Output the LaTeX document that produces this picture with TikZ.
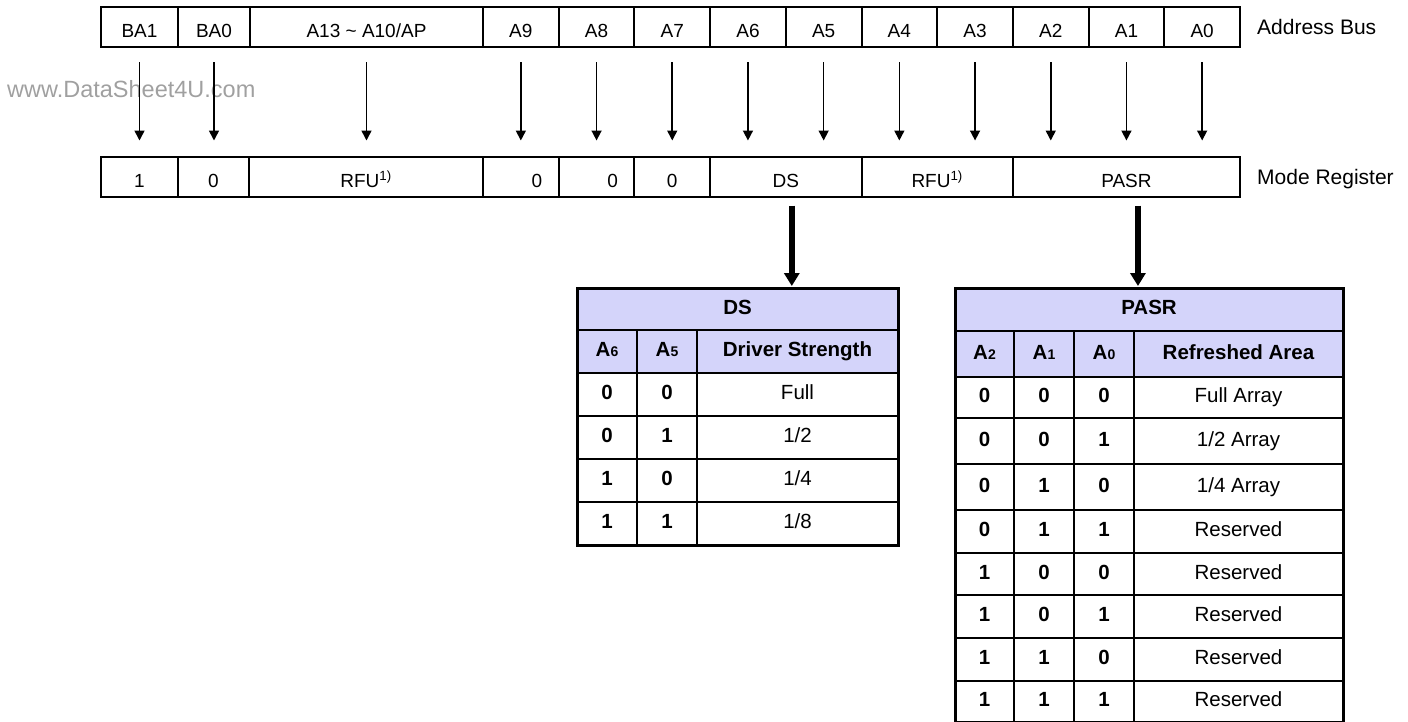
\documentclass[tikz,border=0pt]{standalone}
\usepackage{fontspec}
\setmainfont{Liberation Sans}
\usetikzlibrary{arrows.meta, positioning, calc}
\usepackage{xcolor}

\definecolor{headfill}{RGB}{212,212,250}
\definecolor{wmgray}{RGB}{160,160,160}

\newcommand{\subdig}[1]{{\fontsize{14}{16}\selectfont #1}}

\tikzset{
  buscell/.style={draw, line width=2pt, inner sep=0pt, outer sep=0pt,
    minimum height=40pt, text height=21pt, text depth=0pt,
    font=\fontsize{19}{22}\selectfont},
  busarrow/.style={-{Triangle[length=10pt,width=10pt]}, line width=1.6pt},
  bigarrow/.style={-{Triangle[length=13pt,width=15pt]}, line width=5.5pt},
  tabcell/.style={draw, line width=2.2pt, inner sep=0pt, outer sep=0pt,
    text height=14pt, text depth=4pt, font=\fontsize{20.5}{24}\selectfont},
  bitcell/.style={tabcell, font=\fontsize{20.5}{24}\selectfont\bfseries},
  tabhead/.style={tabcell, fill=headfill, font=\fontsize{20.5}{24}\selectfont\bfseries},
  tabframe/.style={draw, line width=3pt},
  sidelabel/.style={anchor=base west, inner sep=0pt, font=\fontsize{21}{25}\selectfont},
  watermark/.style={anchor=base west, inner sep=0pt, text=wmgray, font=\fontsize{23.5}{26}\selectfont}
}

\begin{document}
\begin{tikzpicture}[x=1pt, y=-1pt]
  \useasboundingbox (0,0) rectangle (1408,721);

  \node[watermark] (wm) at (7,97) {www.DataSheet4U.com};

  % address bus row
  \foreach \nm/\lbl/\xa/\xb in {ba1/BA1/101/178, ba0/BA0/178/250,
      a13/{A13 \textasciitilde\ A10/AP}/250/483, a9/A9/483/558.7,
      a8/A8/558.7/634.4, a7/A7/634.4/710.1, a6/A6/710.1/785.8,
      a5/A5/785.8/861.5, a4/A4/861.5/937.2, a3/A3/937.2/1012.9,
      a2/A2/1012.9/1088.6, a1/A1/1088.6/1164.3, a0/A0/1164.3/1240}
    \node[buscell, minimum width={\xb-\xa}] (bus-\nm) at ({(\xa+\xb)/2},27) {\lbl};

  % mode register row (\dx pushes the text to the right)
  \foreach \nm/\lbl/\xa/\xb/\dx in {ba1/1/101/178/0, ba0/0/178/249/0,
      rfuh/{RFU\textsuperscript{1)}}/249/483/0, a9/0/483/558.7/32,
      a8/0/558.7/634.4/32, a7/0/634.4/710.1/0, ds/DS/710.1/861.5/0,
      rfu/{RFU\textsuperscript{1)}}/861.5/1012.9/0, pasr/PASR/1012.9/1240/0}
    \node[buscell, minimum width={\xb-\xa}] (mr-\nm) at ({(\xa+\xb)/2},176.5) {\hspace*{\dx pt}\lbl};

  \node[sidelabel] (bus-label) at (1257,34) {Address Bus};
  \node[sidelabel] (mr-label) at (1257,184) {Mode Register};

  % bus bits to register fields
  \foreach \src/\dst in {ba1/ba1, ba0/ba0, a13/rfuh, a9/a9, a8/a8, a7/a7,
      a6/ds, a5/ds, a4/rfu, a3/rfu, a2/pasr, a1/pasr, a0/pasr}
    \draw[busarrow] ($(bus-\src.south)+(0,15)$) -- ($(bus-\src.south |- mr-\dst.north)+(0,-16)$);

  % DS table
  \node[tabhead, minimum width=321pt, minimum height=42pt] (ds-title) at (737.5,309) {DS};
  \foreach \nm/\lbl/\xa/\xb in {c1/{A\subdig{6}}/577/637, c2/{A\subdig{5}}/637/697,
      c3/Driver Strength/697/898}
    \node[tabhead, minimum width={\xb-\xa}, minimum height=43pt] (ds-h\nm) at ({(\xa+\xb)/2},351.5) {\lbl};
  \foreach \r/\bita/\bitb/\txt in {1/0/0/Full, 2/0/1/{1/2}, 3/1/0/{1/4}, 4/1/1/{1/8}}
  {
    \node[bitcell, minimum width=60pt, minimum height=43pt] (ds-r\r-c1) at (607,{373+43*(\r-0.5)}) {\bita};
    \node[bitcell, minimum width=60pt, minimum height=43pt] (ds-r\r-c2) at (667,{373+43*(\r-0.5)}) {\bitb};
    \node[tabcell, minimum width=201pt, minimum height=43pt] (ds-r\r-c3) at (797.5,{373+43*(\r-0.5)}) {\txt};
  }
  \draw[tabframe] (ds-title.north west) rectangle (ds-r4-c3.south east);

  % PASR table
  \node[tabhead, minimum width=388pt, minimum height=43pt] (pasr-title) at (1149,309.5) {PASR};
  \foreach \nm/\lbl/\xa/\xb in {c1/{A\subdig{2}}/955/1014, c2/{A\subdig{1}}/1014/1074,
      c3/{A\subdig{0}}/1074/1134, c4/Refreshed Area/1134/1343}
    \node[tabhead, minimum width={\xb-\xa}, minimum height=46pt] (pasr-h\nm) at ({(\xa+\xb)/2},354) {\lbl};
  \foreach \r/\bita/\bitb/\bitc/\txt/\ya/\yb in {1/0/0/0/Full Array/377/418,
      2/0/0/1/{1/2 Array}/418/464, 3/0/1/0/{1/4 Array}/464/510,
      4/0/1/1/Reserved/510/553, 5/1/0/0/Reserved/553/595,
      6/1/0/1/Reserved/595/638, 7/1/1/0/Reserved/638/681,
      8/1/1/1/Reserved/681/722}
  {
    \node[bitcell, minimum width=59pt, minimum height={\yb-\ya}] (pasr-r\r-c1) at (984.5,{(\ya+\yb)/2}) {\bita};
    \node[bitcell, minimum width=60pt, minimum height={\yb-\ya}] (pasr-r\r-c2) at (1044,{(\ya+\yb)/2}) {\bitb};
    \node[bitcell, minimum width=60pt, minimum height={\yb-\ya}] (pasr-r\r-c3) at (1104,{(\ya+\yb)/2}) {\bitc};
    \node[tabcell, minimum width=209pt, minimum height={\yb-\ya}] (pasr-r\r-c4) at (1238.5,{(\ya+\yb)/2}) {\txt};
  }
  \draw[tabframe] (pasr-title.north west) rectangle (pasr-r8-c4.south east);

  % fields to their tables
  \coordinate (ds-from) at ($(mr-ds.south)+(6,9)$);
  \coordinate (pasr-from) at ($(mr-pasr.south)+(11.5,9)$);
  \draw[bigarrow, shorten >=2pt] (ds-from) -- (ds-from |- ds-title.north);
  \draw[bigarrow, shorten >=2pt] (pasr-from) -- (pasr-from |- pasr-title.north);
\end{tikzpicture}
\end{document}
